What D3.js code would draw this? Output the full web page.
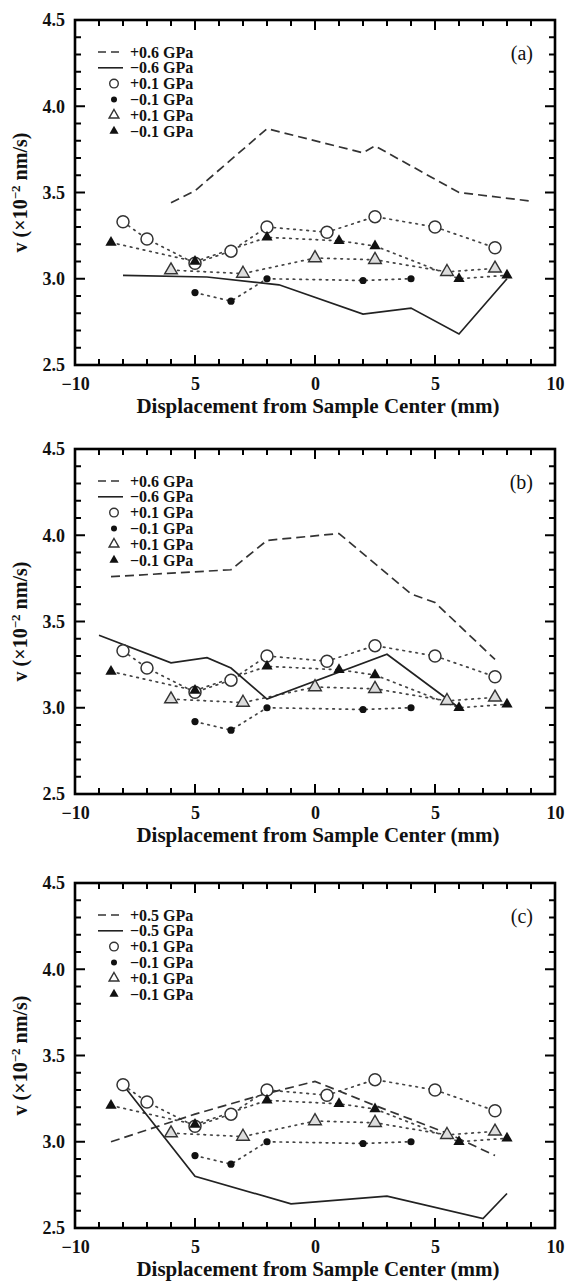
<!DOCTYPE html>
<html><head><meta charset="utf-8">
<script src="https://cdn.jsdelivr.net/npm/d3@7"></script>
<style>
body{margin:0;background:#fff;}
svg{display:block;}
text{font-family:"Liberation Serif","Times New Roman",serif;}
</style></head>
<body>
<svg id="chart" width="568" height="1283"></svg>
<script>
// ---------- data ----------
const xMajorTicks = [-10, -5, 0, 5, 10];
const xTickLabels = ["\u221210", "5", "0", "5", "10"];
const yMajorTicks = [2.5, 3.0, 3.5, 4.0, 4.5];
const panelLabels = ["(a)", "(b)", "(c)"];
const dashLegend = ["+0.6 GPa", "+0.6 GPa", "+0.5 GPa"];
const solidLegend = ["\u22120.6 GPa", "\u22120.6 GPa", "\u22120.5 GPa"];
const markerLegend = ["+0.1 GPa", "\u22120.1 GPa", "+0.1 GPa", "\u22120.1 GPa"];

// dotted marker series (same in all panels)
const openCircleX = [-8, -7, -5, -3.5, -2, 0.5, 2.5, 5, 7.5];
const openCircleY = [3.33, 3.23, 3.09, 3.16, 3.30, 3.27, 3.36, 3.30, 3.18];
const filledCircleX = [-5, -3.5, -2, 2, 4];
const filledCircleY = [2.92, 2.87, 3.00, 2.99, 3.00];
const openTriX = [-6, -3, 0, 2.5, 5.5, 7.5];
const openTriY = [3.05, 3.03, 3.12, 3.11, 3.04, 3.06];
const filledTriX = [-8.5, -5, -2, 1, 2.5, 6, 8];
const filledTriY = [3.21, 3.10, 3.24, 3.22, 3.19, 3.00, 3.02];

// panel (a)
const dashAX = [-6, -5, -2, 2, 2.5, 6, 9];
const dashAY = [3.44, 3.51, 3.87, 3.73, 3.77, 3.50, 3.45];
const solidAX = [-8, -4.5, -1.5, 2, 4, 6, 8];
const solidAY = [3.02, 3.01, 2.965, 2.795, 2.83, 2.68, 3.0];
// panel (b)
const dashBX = [-8.5, -3.5, -2, 1, 4, 5, 7.5];
const dashBY = [3.76, 3.80, 3.97, 4.01, 3.66, 3.61, 3.28];
const solidBX = [-9, -6, -4.5, -3.5, -2, 3, 6];
const solidBY = [3.42, 3.26, 3.29, 3.23, 3.05, 3.31, 3.0];
// panel (c)
const dashCX = [-8.5, -5, -2, 0, 2.5, 5.5, 7.5];
const dashCY = [3.0, 3.16, 3.28, 3.35, 3.21, 3.05, 2.92];
const solidCX = [-8, -5, -1, 3, 7, 8];
const solidCY = [3.33, 2.80, 2.64, 2.685, 2.555, 2.70];

const dashX = [dashAX, dashBX, dashCX], dashY = [dashAY, dashBY, dashCY];
const solidX = [solidAX, solidBX, solidCX], solidY = [solidAY, solidBY, solidCY];

// ---------- layout ----------
const svg = d3.select("#chart");
const left = 75, right = 555;
const tops = [20, 449, 883];
const ph = 345;
const zip = (xs, ys) => xs.map((v, i) => [v, ys[i]]);

tops.forEach((top, p) => {
  const bottom = top + ph;
  const x = d3.scaleLinear().domain([-10, 10]).range([left, right]);
  const y = d3.scaleLinear().domain([2.5, 4.5]).range([bottom, top]);
  const g = svg.append("g");

  const xMinor = d3.range(-10, 10.01, 1);
  const yMinor = d3.range(25, 45.01, 1).map(d => d / 10);
  const isMajX = v => Math.abs(v % 5) < 1e-6;
  const isMajY = v => Math.abs((v * 10) % 5) < 1e-6;

  // frame
  g.append("rect").attr("x", left).attr("y", top).attr("width", right - left).attr("height", ph)
    .attr("fill", "none").attr("stroke", "#000").attr("stroke-width", 2.6);

  // tick marks (inward, all four sides)
  const tk = g.append("g");
  const addTick = (x1, y1, x2, y2) => tk.append("path")
    .attr("d", `M${x1},${y1}L${x2},${y2}`).attr("fill", "none")
    .attr("stroke", "#000").attr("stroke-width", 2);
  xMinor.forEach(v => {
    const L = isMajX(v) ? 10 : 6;
    addTick(x(v), bottom, x(v), bottom - L);
    addTick(x(v), top, x(v), top + L);
  });
  yMinor.forEach(v => {
    const L = isMajY(v) ? 10 : 6;
    addTick(left, y(v), left + L, y(v));
    addTick(right, y(v), right - L, y(v));
  });

  // tick labels via axes
  g.append("g").attr("transform", `translate(0,${bottom})`)
    .call(d3.axisBottom(x).tickValues(xMajorTicks).tickSize(0).tickPadding(12)
      .tickFormat((d, i) => xTickLabels[i]));
  g.append("g").attr("transform", `translate(${left},0)`)
    .call(d3.axisLeft(y).tickValues(yMajorTicks).tickSize(0).tickPadding(10)
      .tickFormat(d3.format(".1f")));
  g.selectAll(".domain").remove();
  g.selectAll(".tick line").remove();
  g.selectAll(".tick text").attr("font-family", "Liberation Serif, serif")
    .attr("font-size", 18).attr("font-weight", "bold").attr("fill", "#111");

  // titles
  g.append("text").attr("x", 318).attr("y", bottom + 48).attr("text-anchor", "middle")
    .attr("font-size", 21).attr("font-weight", "bold").attr("fill", "#111")
    .text("Displacement from Sample Center (mm)");
  const yt = g.append("text").attr("transform", `translate(27,${(top + bottom) / 2}) rotate(-90)`)
    .attr("text-anchor", "middle").attr("font-size", 20).attr("font-weight", "bold").attr("fill", "#111");
  yt.append("tspan").text("v (\u00d710");
  yt.append("tspan").attr("dy", -7).attr("font-size", 13).text("\u22122");
  yt.append("tspan").attr("dy", 7).text(" nm/s)");

  g.append("text").attr("x", 533).attr("y", top + 40).attr("text-anchor", "end")
    .attr("font-size", 20).attr("fill", "#111").text(panelLabels[p]);

  const line = d3.line().x(d => x(d[0])).y(d => y(d[1]));

  // dotted series
  const dotted = [[openCircleX, openCircleY], [filledCircleX, filledCircleY],
                  [openTriX, openTriY], [filledTriX, filledTriY]];
  dotted.forEach(([xs, ys]) => {
    g.append("path").datum(zip(xs, ys)).attr("d", line).attr("fill", "none")
      .attr("stroke", "#444").attr("stroke-width", 1.7)
      .attr("stroke-dasharray", "1.6,5").attr("stroke-linecap", "round");
  });

  // dashed & solid
  g.append("path").datum(zip(dashX[p], dashY[p])).attr("d", line).attr("fill", "none")
    .attr("stroke", "#333").attr("stroke-width", 1.7).attr("stroke-dasharray", "9,5");
  g.append("path").datum(zip(solidX[p], solidY[p])).attr("d", line).attr("fill", "none")
    .attr("stroke", "#222").attr("stroke-width", 1.7);

  const tri = d3.symbol().type(d3.symbolTriangle);
  // markers
  g.selectAll(null).data(zip(openCircleX, openCircleY)).join("circle")
    .attr("cx", d => x(d[0])).attr("cy", d => y(d[1])).attr("r", 6)
    .attr("fill", "#fff").attr("stroke", "#333").attr("stroke-width", 1.5);
  g.selectAll(null).data(zip(filledCircleX, filledCircleY)).join("circle")
    .attr("cx", d => x(d[0])).attr("cy", d => y(d[1])).attr("r", 3.6).attr("fill", "#111");
  g.selectAll(null).data(zip(openTriX, openTriY)).join("path")
    .attr("d", tri.size(70)()).attr("transform", d => `translate(${x(d[0])},${y(d[1])})`)
    .attr("fill", "#ddd").attr("stroke", "#333").attr("stroke-width", 1.4);
  g.selectAll(null).data(zip(filledTriX, filledTriY)).join("path")
    .attr("d", tri.size(55)()).attr("transform", d => `translate(${x(d[0])},${y(d[1])})`)
    .attr("fill", "#111");

  // legend
  const ly0 = top + 32, ldy = 15.8, lx = 130;
  const lg = g.append("g").attr("font-size", 16).attr("font-weight", "bold").attr("fill", "#111");
  const labels = [dashLegend[p], solidLegend[p]].concat(markerLegend);
  labels.forEach((t, i) => {
    lg.append("text").attr("x", lx).attr("y", ly0 + i * ldy).attr("dy", "0.35em").text(t);
  });
  lg.append("line").attr("x1", 98).attr("x2", 123).attr("y1", ly0).attr("y2", ly0)
    .attr("stroke", "#333").attr("stroke-width", 1.6).attr("stroke-dasharray", "8,5");
  lg.append("line").attr("x1", 98).attr("x2", 123).attr("y1", ly0 + ldy).attr("y2", ly0 + ldy)
    .attr("stroke", "#222").attr("stroke-width", 1.6);
  lg.append("circle").attr("cx", 114).attr("cy", ly0 + 2 * ldy).attr("r", 4.3)
    .attr("fill", "#fff").attr("stroke", "#333").attr("stroke-width", 1.4);
  lg.append("circle").attr("cx", 114).attr("cy", ly0 + 3 * ldy).attr("r", 3)
    .attr("fill", "#111");
  lg.append("path").attr("d", tri.size(42)()).attr("transform", `translate(114,${ly0 + 4 * ldy})`)
    .attr("fill", "#fff").attr("stroke", "#333").attr("stroke-width", 1.4);
  lg.append("path").attr("d", tri.size(36)()).attr("transform", `translate(114,${ly0 + 5 * ldy})`)
    .attr("fill", "#111");
});
</script>
</body></html>
